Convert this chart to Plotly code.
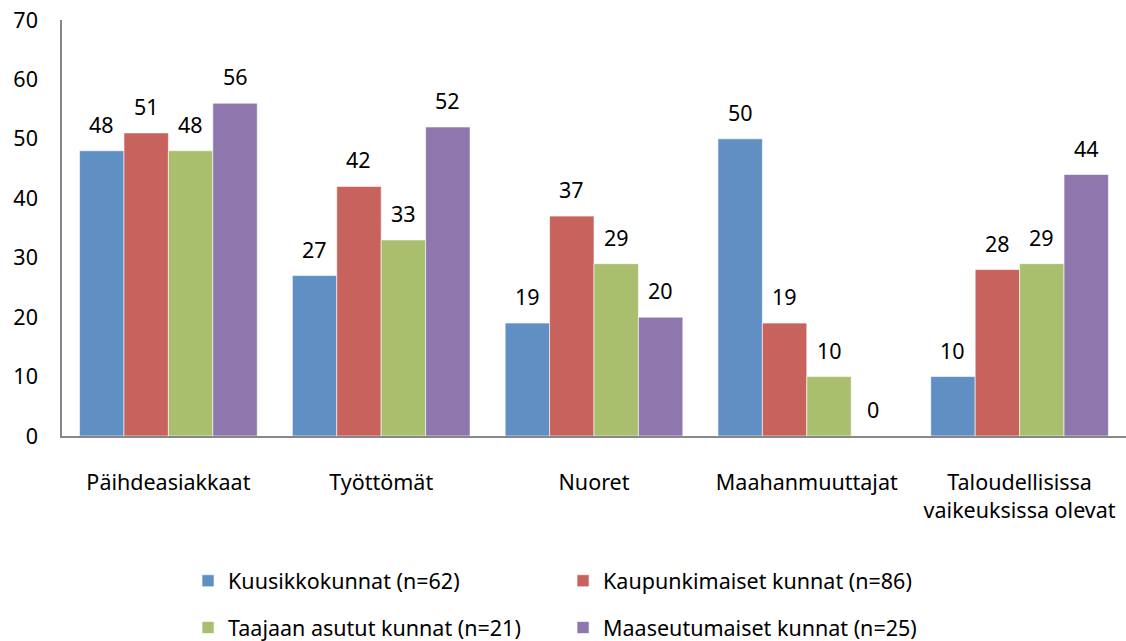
import plotly.graph_objects as go

categories = ["Päihdeasiakkaat", "Työttömät", "Nuoret", "Maahanmuuttajat",
              "Taloudellisissa<br>vaikeuksissa olevat"]
series_names = ["Kuusikkokunnat (n=62)", "Kaupunkimaiset kunnat (n=86)",
                "Taajaan asutut kunnat (n=21)", "Maaseutumaiset kunnat (n=25)"]
kuusikko = [48, 27, 19, 50, 10]
kaupunki = [51, 42, 37, 19, 28]
taajaan = [48, 33, 29, 10, 29]
maaseutu = [56, 52, 20, 0, 44]
values = [kuusikko, kaupunki, taajaan, maaseutu]
colors = ["#5F8FC3", "#C8625C", "#A9BF6E", "#8E77AD"]
legends = ["legend", "legend", "legend2", "legend2"]
y_ticks = [0, 10, 20, 30, 40, 50, 60, 70]

FONT = "Noto Sans"
FS = 21.5
WIDTH, HEIGHT = 1126, 641
M_L, M_R, M_T, M_B = 62, 0, 20, 205
BARGAP = 0.165

fig = go.Figure()
for name, vals, col, lg in zip(series_names, values, colors, legends):
    fig.add_trace(go.Bar(
        x=categories, y=vals, name=name, legend=lg,
        marker=dict(color=col, line=dict(color="white", width=0.6)),
    ))

# value labels above bars (pixel offset of each bar within its group)
cat_px = (WIDTH - M_L - M_R) / len(categories)
bar_px = cat_px * (1 - BARGAP) / len(values)
for si, vals in enumerate(values):
    offset = (si - (len(values) - 1) / 2) * bar_px
    for cat, v in zip(categories, vals):
        fig.add_annotation(x=cat, y=v, text=str(v), showarrow=False,
                           xshift=offset, yanchor="bottom", yshift=10,
                           font=dict(size=FS, family=FONT, color="black"))

legend_common = dict(orientation="h", xref="container", yref="container",
                     x=0.167, xanchor="left", yanchor="middle",
                     entrywidth=330, entrywidthmode="pixels",
                     font=dict(size=FS, family=FONT), itemwidth=30)

fig.update_layout(
    width=WIDTH, height=HEIGHT,
    barmode="group", bargap=BARGAP, bargroupgap=0,
    plot_bgcolor="white", paper_bgcolor="white",
    margin=dict(l=M_L, r=M_R, t=M_T, b=M_B),
    font=dict(family=FONT, size=FS, color="black"),
    xaxis=dict(showline=True, linecolor="#888888", linewidth=1.5, ticks="",
               showgrid=False, ticklabelstandoff=26,
               tickfont=dict(size=FS, family=FONT)),
    yaxis=dict(range=[0, 70], tickvals=y_ticks, showline=True,
               linecolor="#888888", linewidth=1.5, ticks="", showgrid=False,
               ticklabelstandoff=18, tickfont=dict(size=FS, family=FONT)),
    legend=dict(legend_common, y=0.094),
    legend2=dict(legend_common, y=0.021),
)
post = (
    "document.documentElement.style.margin='0';"
    "document.body.style.margin='0';"
    "document.body.style.padding='0';"
)
fig.write_html("out.html", config={"displayModeBar": False}, post_script=post)
